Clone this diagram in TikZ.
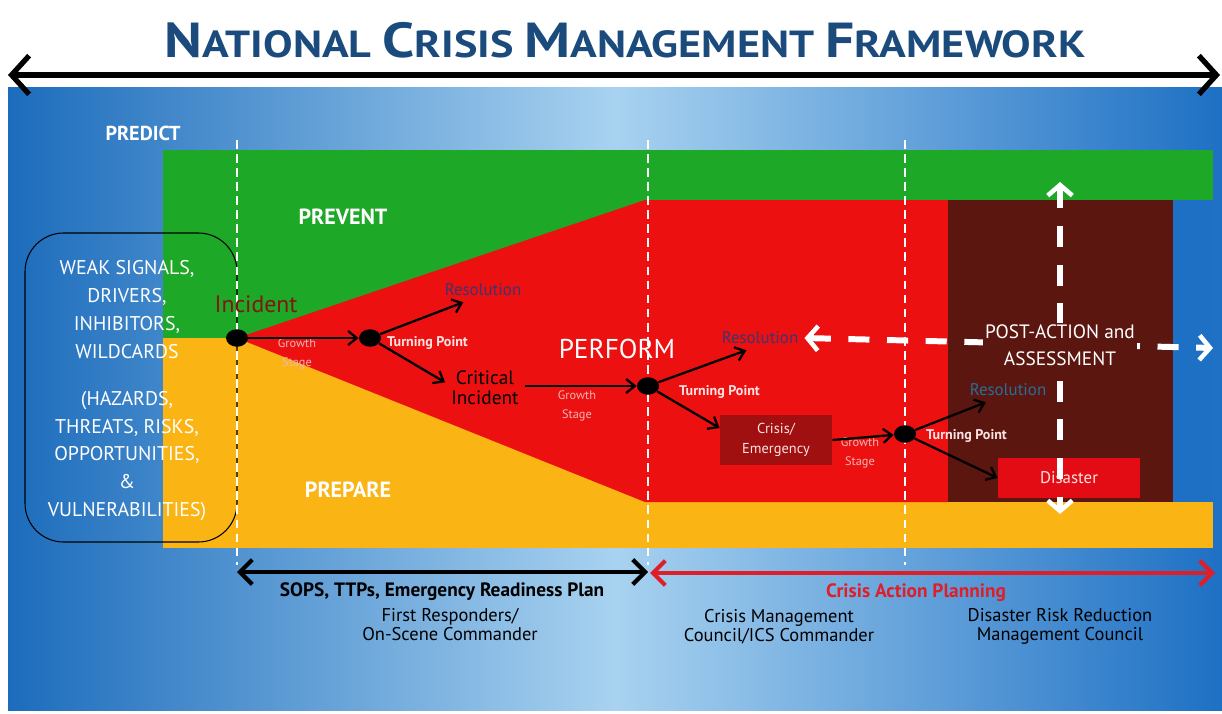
\documentclass[tikz,border=0pt]{standalone}
\usepackage{fontspec}
\setmainfont{PT Sans}
\usetikzlibrary{arrows.meta, shapes.geometric}

\definecolor{titleblue}{RGB}{27,75,125}
\definecolor{panelL}{RGB}{28,108,188}
\definecolor{panelM}{RGB}{168,210,240}
\definecolor{panelR}{RGB}{30,112,196}
\definecolor{prevgreen}{RGB}{30,168,40}
\definecolor{prepyellow}{RGB}{250,180,20}
\definecolor{perfred}{RGB}{236,16,16}
\definecolor{postbrown}{RGB}{92,22,16}
\definecolor{crisisred}{RGB}{160,16,16}
\definecolor{disred}{RGB}{228,12,20}
\definecolor{incred}{RGB}{130,22,16}
\definecolor{resblue}{RGB}{62,52,112}
\definecolor{resteal}{RGB}{40,110,150}
\definecolor{tppink}{RGB}{255,226,226}
\definecolor{gspink}{RGB}{242,182,182}
\definecolor{planred}{RGB}{222,30,40}

\def\xIncident{237}
\def\xTurnA{370}
\def\xTurnB{648}
\def\xTurnC{905}
\def\xPost{1060}

\newcommand\capsc[2]{{\fontsize{28}{30}\selectfont #1}{\fontsize{21.5}{24}\selectfont #2}}

\begin{document}
\begin{tikzpicture}[x=0.02cm, y=-0.02cm,
    phase/.style={white, line width=0.7pt, dash pattern=on 5pt off 3pt},
    flow/.style={-{Straight Barb[length=5pt,width=8pt]}, line width=1.3pt},
    turn/.style={ellipse, fill=black, minimum width=0.44cm, minimum height=0.35cm, inner sep=0pt},
    tplabel/.style={anchor=west, text=tppink, font=\bfseries\fontsize{8}{9}\selectfont},
    growth/.style={text=gspink, align=center, font=\fontsize{7}{11}\selectfont},
    reslabel/.style={text=resblue, font=\fontsize{9.6}{11}\selectfont},
    zone/.style={text=white, font=\bfseries\fontsize{12.5}{15}\selectfont},
    footer/.style={align=center, font=\fontsize{10.5}{10.8}\selectfont},
    postline/.style={white, line width=3.4pt, dash pattern=on 12pt off 10pt,
      {Straight Barb[length=6pt,width=14pt,line width=2.6pt]}-{Straight Barb[length=6pt,width=14pt,line width=2.6pt]}},
    band/.style={line width=2.8pt, {Straight Barb[length=7pt,width=14pt,line width=2.4pt]}-{Straight Barb[length=7pt,width=14pt,line width=2.4pt]}}]
  \useasboundingbox (0,0) rectangle (1222,713);

  % -- panel and zones
  \shade[left color=panelL, right color=panelR, middle color=panelM] (8,88) rectangle (1222,710);
  \fill[prevgreen] (163,150) rectangle (1213,338);
  \fill[prepyellow] (163,338) rectangle (1213,548);
  \fill[perfred] (\xIncident,338) -- (645,200) -- (948,200) -- (948,502) -- (645,502) -- cycle;
  \fill[postbrown] (948,200) rectangle (1173,502);
  \fill[panelR] (1173,200) rectangle (1213,502);

  \draw[black, line width=0.6pt, rounded corners=22] (25,233) rectangle (\xIncident,542);

  \foreach \x in {\xIncident, \xTurnB, \xTurnC}
    \draw[phase] (\x,140) -- (\x,565);

  % -- title and frame arrow
  \node[text=titleblue, font=\bfseries\fontsize{21.5}{24}\selectfont] (title) at (625,40)
    {\scalebox{1.17}[1]{\capsc{N}{ATIONAL} \capsc{C}{RISIS} \capsc{M}{ANAGEMENT} \capsc{F}{RAMEWORK}}};
  \coordinate (frame-w) at (8,75);
  \coordinate (frame-e) at (1220,75);
  \draw[line width=3.6pt, {Straight Barb[length=10pt,width=22pt,line width=3pt]}-{Straight Barb[length=10pt,width=22pt,line width=3pt]}] (frame-w) -- (frame-e);

  % -- zone labels
  \node[zone, font=\bfseries\fontsize{11.5}{14}\selectfont] (predict) at (143,133) {PREDICT};
  \node[zone] (prevent) at (343,217) {PREVENT};
  \node[zone] (prepare) at (348,490) {PREPARE};
  \node[zone, font=\fontsize{15.5}{17}\selectfont] (perform) at (617,349) {PERFORM};

  \node[text=white, align=center, font=\fontsize{11.3}{15.9}\selectfont] (signals) at (127,391)
    {WEAK SIGNALS,\\DRIVERS,\\INHIBITORS,\\WILDCARDS\\[10.5pt]
     (HAZARDS,\\THREATS, RISKS,\\OPPORTUNITIES,\\\&\\VULNERABILITIES)};

  % -- incident chain
  \node[turn] (inc) at (\xIncident,338) {};
  \node[text=incred, font=\fontsize{13.5}{15}\selectfont] (inclabel) at (256,304) {Incident};
  \node[turn] (tp1) at (\xTurnA,338) {};
  \node[tplabel] (tp1label) at (381,343) {Turning Point};
  \node[growth] (gs1) at (297,354) {Growth\\Stage};
  \node[reslabel] (res1) at (483,290) {Resolution};
  \node[align=center, font=\fontsize{11}{11.3}\selectfont] (crit) at (485,388) {Critical\\Incident};

  \draw[flow] (inc) -- (tp1);
  \draw[flow] (tp1) -- (res1.212);
  \draw[flow] (tp1) -- (crit.172);

  \node[turn] (tp2) at (\xTurnB,386) {};
  \node[tplabel] (tp2label) at (673,392) {Turning Point};
  \node[growth] (gs2) at (577,406) {Growth\\Stage};
  \node[reslabel] (res2) at (760,338) {Resolution};
  \node[fill=crisisred, text=tppink, align=center, minimum width=2.24cm, minimum height=1cm,
    font=\fontsize{8.2}{11.5}\selectfont] (crisis) at (776,440) {Crisis/\\Emergency};

  \draw[flow] (crit.east |- tp2) -- (tp2);
  \draw[flow] (tp2) -- (res2.222);
  \draw[flow] (tp2) -- (crisis.168);

  \node[turn] (tp3) at (\xTurnC,434) {};
  \node[tplabel] (tp3label) at (920,436) {Turning Point};
  \node[growth] (gs3) at (860,453) {Growth\\Stage};
  \node[reslabel, text=resteal] (res3) at (1008,390) {Resolution};
  \node[fill=disred, text=tppink, minimum width=2.84cm, minimum height=0.8cm,
    font=\fontsize{9.6}{11}\selectfont] (disaster) at (1069,478) {Disaster};

  \draw[flow] (crisis.east) -- (tp3);
  \draw[flow] (tp3) -- (res3.209);
  \draw[flow] (tp3) -- (disaster.west);

  % -- post action
  \coordinate (post-e) at (1213,348);
  \coordinate (post-n) at (\xPost,182);
  \coordinate (post-s) at (\xPost,514);
  \draw[postline] (res2.east) -- (post-e);
  \draw[postline] (post-n) -- (post-s);
  \node[fill=postbrown, text=white, align=center, inner sep=1pt,
    font=\fontsize{11}{15.3}\selectfont] (post) at (\xPost,345) {POST-ACTION and\\ASSESSMENT};

  % -- planning bands
  \coordinate (sops-w) at (\xIncident,572);
  \coordinate (sops-e) at (\xTurnB,572);
  \coordinate (cap-w) at (650,573);
  \coordinate (cap-e) at (1215,573);
  \draw[band] (sops-w) -- (sops-e);
  \draw[band, planred, line width=2.3pt] (cap-w) -- (cap-e);

  \node[footer, font=\bfseries\fontsize{11}{12}\selectfont] (sops) at (442,592) {SOPS, TTPs, Emergency Readiness Plan};
  \node[footer] (first) at (450,625) {First Responders/\\On-Scene Commander};
  \node[footer, text=planred, font=\bfseries\fontsize{11}{12}\selectfont] (cap) at (916,593) {Crisis Action Planning};
  \node[footer] (cmc) at (779,627) {Crisis Management\\Council/ICS Commander};
  \node[footer] (drr) at (1060,626) {Disaster Risk Reduction\\Management Council};
\end{tikzpicture}
\end{document}
